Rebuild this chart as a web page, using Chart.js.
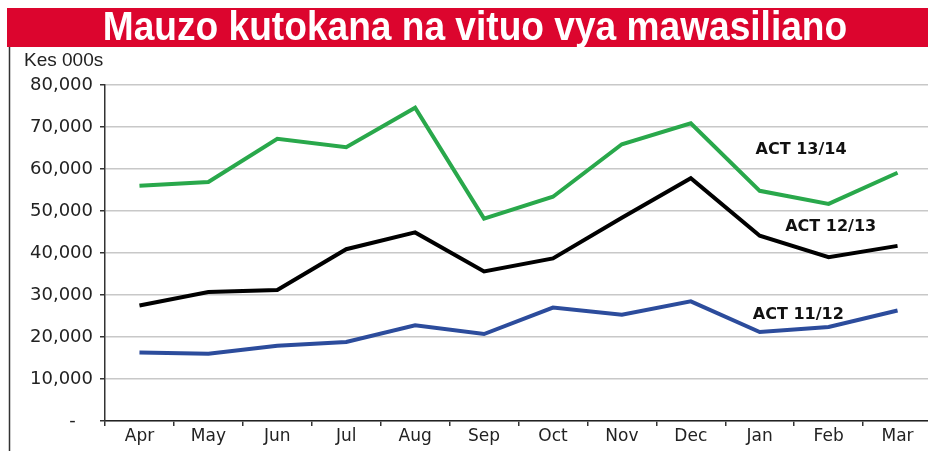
<!DOCTYPE html>
<html>
<head>
<meta charset="utf-8">
<script src="https://cdn.jsdelivr.net/npm/chart.js@4.4.1/dist/chart.umd.min.js"></script>
<style>
  html, body { margin: 0; padding: 0; background: #fff; overflow: hidden; }
  #wrap { width: 932px; height: 451px; }
</style>
</head>
<body>
<div id="wrap"><canvas id="chart" width="932" height="451"></canvas></div>
<script>
const months = ['Apr', 'May', 'Jun', 'Jul', 'Aug', 'Sep', 'Oct', 'Nov', 'Dec', 'Jan', 'Feb', 'Mar'];
const act1314 = [56000, 56900, 67200, 65200, 74600, 48200, 53400, 65900, 70900, 54800, 51700, 59100];
const act1213 = [27500, 30700, 31200, 40900, 44900, 35600, 38700, 48400, 57800, 44100, 39000, 41700];
const act1112 = [16300, 16000, 17900, 18800, 22800, 20700, 27000, 25300, 28500, 21200, 22400, 26300];
const yTicks = [0, 10000, 20000, 30000, 40000, 50000, 60000, 70000, 80000];

const titleText = 'Mauzo kutokana na vituo vya mawasiliano';
const unitText = 'Kes 000s';

// title band, unit label, left frame line and series labels
const decorPlugin = {
    id: 'decor',
    beforeDraw(chart) {
        const ctx = chart.ctx;
        ctx.save();
        ctx.fillStyle = '#dc052e';
        ctx.fillRect(7, 8, 925, 39);

        ctx.save();
        ctx.translate(475, 29);
        ctx.scale(0.905, 1);
        ctx.fillStyle = '#ffffff';
        ctx.font = "bold 41px 'Liberation Sans Narrow', 'Arial Narrow', sans-serif";
        ctx.textAlign = 'center';
        ctx.textBaseline = 'middle';
        ctx.fillText(titleText, 0, 0);
        ctx.restore();

        ctx.strokeStyle = '#333333';
        ctx.lineWidth = 1.5;
        ctx.beginPath();
        ctx.moveTo(9.5, 47);
        ctx.lineTo(9.5, 451);
        ctx.stroke();

        ctx.fillStyle = '#222222';
        ctx.font = "19px 'Liberation Sans Narrow', 'Arial Narrow', sans-serif";
        ctx.textAlign = 'left';
        ctx.textBaseline = 'middle';
        ctx.fillText(unitText, 24, 61);
        ctx.restore();
    },
    afterDatasetsDraw(chart) {
        const ctx = chart.ctx;
        const x = chart.scales.x, y = chart.scales.y;
        const anchors = [
            ['ACT 13/14', 9.6, 64500],
            ['ACT 12/13', 10.03, 46200],
            ['ACT 11/12', 9.56, 25200]
        ];
        ctx.save();
        ctx.fillStyle = '#111111';
        ctx.font = "bold 16px 'DejaVu Sans', sans-serif";
        ctx.textAlign = 'center';
        ctx.textBaseline = 'middle';
        anchors.forEach(a => {
            const px = x.getPixelForValue(0) + a[1] * (x.getPixelForValue(1) - x.getPixelForValue(0));
            ctx.fillText(a[0], px, y.getPixelForValue(a[2]));
        });
        ctx.restore();
    }
};

new Chart(document.getElementById('chart'), {
    type: 'line',
    data: {
        labels: months,
        datasets: [
            { label: 'ACT 13/14', data: act1314, borderColor: '#29a84b' },
            { label: 'ACT 12/13', data: act1213, borderColor: '#000000' },
            { label: 'ACT 11/12', data: act1112, borderColor: '#2c4c9c' }
        ].map(d => Object.assign(d, {
            borderWidth: 4,
            pointRadius: 0,
            tension: 0,
            fill: false,
            borderJoinStyle: 'miter',
            borderCapStyle: 'butt'
        }))
    },
    options: {
        responsive: false,
        animation: false,
        layout: { padding: { top: 85, right: 0, bottom: 0, left: 0 } },
        plugins: {
            legend: { display: false },
            tooltip: { enabled: false }
        },
        scales: {
            x: {
                offset: true,
                grid: {
                    offset: true,
                    drawOnChartArea: false,
                    tickLength: 5,
                    color: '#333333',
                    lineWidth: 1.5
                },
                border: { display: true, color: '#222222', width: 1.5 },
                ticks: { color: '#222222', font: { family: "'DejaVu Sans', sans-serif", size: 17 }, padding: 0 },
                afterFit(scale) { scale.height = 30; }
            },
            y: {
                min: 0,
                max: 80000,
                afterBuildTicks(scale) { scale.ticks = yTicks.map(v => ({ value: v })); },
                grid: {
                    color: '#c8c8c8',
                    lineWidth: 1.5,
                    tickLength: 5,
                    tickColor: '#333333'
                },
                border: { display: true, color: '#333333', width: 1.5 },
                ticks: {
                    color: '#222222',
                    font: { family: "'DejaVu Sans', sans-serif", size: 18 },
                    padding: 7,
                    callback: v => v === 0 ? '-   ' : v.toLocaleString('en-US')
                },
                afterFit(scale) { scale.width = 105; }
            }
        }
    },
    plugins: [decorPlugin]
});
</script>
</body>
</html>
